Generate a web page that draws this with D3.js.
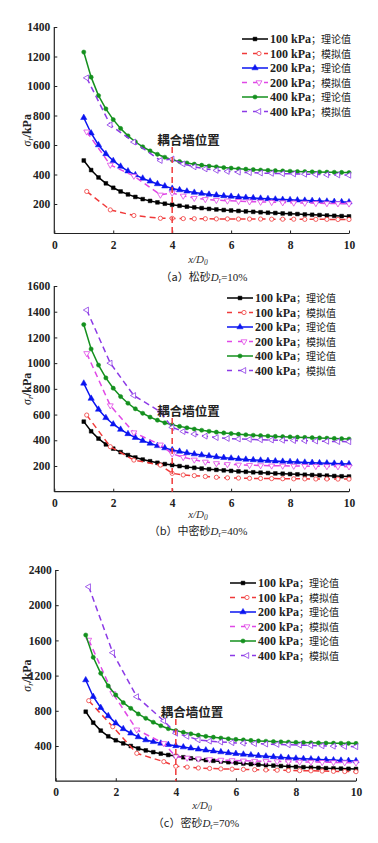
<!DOCTYPE html>
<html>
  <head>
    <meta http-equiv="Content-Type" content="text/html; charset=UTF-8">
    <script type="text/javascript" src="https://cdn.jsdelivr.net/npm/d3@7/dist/d3.min.js"></script>
    <style>
      body { margin: 0; background: #fff; }
      svg { display: block; }
      text { font-family: "Liberation Serif", "Noto Sans CJK SC", serif; }
    </style>
  </head>
  <body>
    <div id="chart"></div>
    <script>
// x positions
var theoryX = [1, 1.25, 1.5, 1.75, 2, 2.25, 2.5, 2.75, 3, 3.25, 3.5, 3.75, 4, 4.25, 4.5, 4.75, 5, 5.25, 5.5, 5.75,
               6, 6.25, 6.5, 6.75, 7, 7.25, 7.5, 7.75, 8, 8.25, 8.5, 8.75, 9, 9.25, 9.5, 9.75, 10];
var simX = [1.1, 1.9, 2.7, 3.6, 4, 4.375, 4.75, 5.125, 5.5, 5.875, 6.25, 6.625, 7, 7.375, 7.75, 8.125, 8.5, 8.875, 9.25, 9.625, 10];

// (a) loose sand
var a100T = [495, 430, 380, 340, 310, 285, 265, 248, 233, 221, 211, 202, 195, 188, 182, 177, 172, 167, 163, 159,
             156, 153, 150, 147, 144, 141, 139, 136, 134, 132, 129, 127, 125, 122, 120, 118, 116];
var a100S = [285, 160, 122, 103, 103, 101, 100, 100, 99, 99, 98, 98, 98, 97, 97, 97, 96, 96, 96, 95, 95];
var a200T = [785, 680, 600, 540, 493, 455, 423, 397, 374, 354, 336, 321, 305, 295, 286, 278, 271, 265, 260, 255,
             251, 247, 244, 241, 238, 235, 232, 230, 228, 226, 224, 222, 220, 218, 216, 214, 213];
var a200S = [690, 465, 390, 262, 275, 255, 240, 232, 226, 222, 219, 216, 214, 212, 210, 208, 207, 205, 204, 203, 202];
var a400T = [1230, 1060, 935, 845, 772, 712, 662, 622, 588, 560, 537, 517, 500, 488, 478, 470, 463, 457, 452, 447,
             443, 439, 436, 433, 430, 428, 426, 424, 422, 420, 419, 418, 417, 416, 415, 414, 413];
var a400S = [1055, 736, 620, 495, 505, 472, 452, 438, 428, 421, 416, 413, 410, 408, 406, 404, 402, 400, 398, 397, 395];

// (b) medium dense sand
var b100T = [545, 470, 413, 368, 335, 308, 285, 266, 250, 237, 225, 215, 207, 199, 192, 186, 180, 175, 170, 166,
             162, 158, 155, 151, 148, 145, 142, 140, 137, 135, 132, 130, 128, 125, 122, 120, 118];
var b100S = [596, 350, 246, 207, 143, 130, 125, 118, 112, 108, 106, 104, 103, 102, 101, 100, 100, 99, 99, 98, 98];
var b200T = [843, 725, 640, 575, 525, 484, 450, 421, 397, 376, 357, 340, 325, 313, 302, 293, 285, 278, 271, 265,
             260, 255, 251, 247, 244, 241, 238, 235, 233, 231, 228, 226, 224, 222, 220, 218, 216];
var b200S = [1076, 670, 460, 365, 295, 268, 248, 232, 220, 213, 209, 206, 204, 202, 201, 200, 199, 198, 197, 196, 195];
var b400T = [1300, 1110, 985, 885, 805, 740, 688, 645, 610, 580, 556, 536, 520, 508, 497, 487, 478, 470, 463, 457,
             452, 447, 443, 439, 436, 433, 430, 428, 426, 424, 422, 420, 418, 416, 414, 412, 410];
var b400S = [1413, 1000, 748, 622, 500, 468, 448, 432, 421, 414, 410, 407, 404, 402, 400, 398, 396, 394, 392, 390, 389];

// (c) dense sand
var c100T = [790, 665, 575, 510, 465, 430, 400, 372, 350, 330, 313, 298, 286, 272, 260, 250, 240, 232, 224, 216,
             208, 201, 194, 188, 182, 177, 172, 167, 163, 159, 155, 152, 148, 145, 143, 141, 139];
var c100S = [915, 619, 317, 222, 170, 160, 150, 145, 140, 137, 134, 131, 128, 125, 122, 120, 118, 115, 112, 110, 108];
var c200T = [1150, 960, 835, 742, 660, 595, 545, 503, 468, 448, 430, 415, 402, 388, 375, 363, 352, 342, 332, 322,
             313, 305, 297, 290, 283, 277, 271, 265, 260, 255, 251, 247, 243, 240, 236, 233, 230];
var c200S = [1605, 999, 585, 430, 280, 265, 255, 247, 241, 236, 232, 229, 226, 224, 222, 220, 218, 216, 214, 212, 210];
var c400T = [1661, 1408, 1226, 1082, 980, 892, 828, 764, 715, 670, 630, 597, 575, 555, 538, 523, 510, 500, 490, 482,
             475, 469, 463, 458, 454, 450, 447, 444, 441, 439, 437, 435, 433, 432, 431, 430, 429];
var c400S = [2210, 1460, 960, 686, 545, 510, 470, 455, 445, 438, 432, 427, 422, 418, 414, 410, 406, 402, 398, 395, 392];

var seriesNames = ["100 kPa；理论值", "100 kPa；模拟值", "200 kPa；理论值", "200 kPa；模拟值", "400 kPa；理论值", "400 kPa；模拟值"];
var xTicks = [0, 2, 4, 6, 8, 10];
var wallX = 4;
var wallLabel = "耦合墙位置";

// styles for the 6 series, same order as the names
var styles = [
  {color: "#000000", dash: null,  shape: "square",  open: false},
  {color: "#f03a3a", dash: "6,4", shape: "circle",  open: true},
  {color: "#0a14f0", dash: null,  shape: "up",      open: false},
  {color: "#e048e6", dash: "6,4", shape: "down",    open: true},
  {color: "#14901e", dash: null,  shape: "dot",     open: false},
  {color: "#8c3ae6", dash: "6,4", shape: "left",    open: true}
];

var svg = d3.select("#chart").append("svg")
    .attr("width", 378)
    .attr("height", 843);

svg.append("rect").attr("width", 378).attr("height", 843).attr("fill", "#fff");

function marker(g, st, x, y) {
  var sym;
  if (st.shape === "square") sym = d3.symbol().type(d3.symbolSquare).size(14);
  else if (st.shape === "dot") sym = d3.symbol().type(d3.symbolCircle).size(14);
  else if (st.shape === "circle") sym = d3.symbol().type(d3.symbolCircle).size(14);
  else sym = d3.symbol().type(d3.symbolTriangle).size(st.open ? 15 : 17);
  var rot = st.shape === "down" ? 180 : st.shape === "left" ? -90 : 0;
  g.append("path")
      .attr("d", sym())
      .attr("transform", "translate(" + x + "," + y + ") rotate(" + rot + ")")
      .attr("fill", st.open ? "#fff" : st.color)
      .attr("stroke", st.color)
      .attr("stroke-width", st.open ? 0.8 : 0.5);
}

var drawPanel = function (config) {
  var left = config.left, right = config.right, top = config.top, bottom = config.bottom;
  var x = d3.scaleLinear().domain([0, 10]).range([left, right]);
  var y = d3.scaleLinear().domain([0, config.yMax]).range([bottom, top]);
  var g = svg.append("g");

  // axes
  var yAxis = d3.axisLeft(y).tickValues(config.yTicks).tickSize(-3).tickPadding(4).tickFormat(d3.format("d"));
  var xAxis = d3.axisBottom(x).tickValues(xTicks).tickSize(-3).tickPadding(7).tickFormat(d3.format("d"));
  var ya = g.append("g").attr("transform", "translate(" + left + ",0)").call(yAxis);
  var xa = g.append("g").attr("transform", "translate(0," + bottom + ")").call(xAxis);
  [ya, xa].forEach(function (a) {
    a.selectAll(".tick line").attr("stroke", "#222");
    a.selectAll(".tick text").attr("font-size", "11.5px").attr("font-weight", "bold").attr("fill", "#222")
      .style("font-family", "'Liberation Serif', serif");
  });
  ya.select(".domain").remove();
  xa.select(".domain").remove();
  g.append("line").attr("x1", left).attr("x2", left).attr("y1", top).attr("y2", bottom)
      .attr("stroke", "#222").attr("stroke-width", 1.2);
  g.append("line").attr("x1", left).attr("x2", right).attr("y1", bottom).attr("y2", bottom)
      .attr("stroke", "#222").attr("stroke-width", 1.2);

  // series
  var line = d3.line().x(function (d) { return x(d[0]); }).y(function (d) { return y(d[1]); });
  config.series.forEach(function (vals, i) {
    var st = styles[i];
    var xs = st.dash ? simX : theoryX;
    var pts = vals.map(function (v, j) { return [xs[j], v]; });
    g.append("path")
        .attr("d", line(pts))
        .attr("fill", "none")
        .attr("stroke", st.color)
        .attr("stroke-width", 1.5)
        .attr("stroke-dasharray", st.dash);
    pts.forEach(function (p) { marker(g, st, x(p[0]), y(p[1])); });
  });

  // wall position
  g.append("line")
      .attr("x1", x(wallX)).attr("x2", x(wallX))
      .attr("y1", config.wallTop).attr("y2", bottom)
      .attr("stroke", "#f03a3a").attr("stroke-width", 1.5).attr("stroke-dasharray", "6,4");
  g.append("text")
      .attr("x", x(wallX) - 15).attr("y", config.wallTop - 2)
      .attr("font-size", "12.5px").attr("font-weight", "bold").attr("fill", "#222")
      .style("font-family", "'Noto Sans CJK SC', sans-serif")
      .text(wallLabel);

  // legend
  var lg = config.legend;
  seriesNames.forEach(function (name, i) {
    var st = styles[i];
    var ly = lg.y + i * 14.5;
    g.append("line")
        .attr("x1", lg.x).attr("x2", lg.x + 26)
        .attr("y1", ly).attr("y2", ly)
        .attr("stroke", st.color).attr("stroke-width", 1.5)
        .attr("stroke-dasharray", st.dash ? "5,6" : null);
    marker(g, st, lg.x + (st.dash ? 17 : 13), ly);
    var t = g.append("text").attr("x", lg.x + 28).attr("y", ly + 4)
        .attr("font-size", "12px").attr("fill", "#222");
    var parts = name.split("；");
    t.append("tspan").attr("font-weight", "bold").text(parts[0]);
    t.append("tspan").attr("font-size", "10px").style("font-family", "'Noto Sans CJK SC', sans-serif")
        .text("；" + parts[1]);
  });

  // y label
  var yl = g.append("text")
      .attr("transform", "translate(" + config.yLabelX + "," + ((top + bottom) / 2) + ") rotate(-90)")
      .attr("text-anchor", "middle").attr("font-size", "12px").attr("fill", "#222");
  yl.append("tspan").attr("font-style", "italic").text("σ");
  yl.append("tspan").attr("font-style", "italic").attr("font-size", "8px").attr("dy", 2).text("r");
  yl.append("tspan").attr("font-weight", "bold").attr("dy", -2).text("/kPa");

  // x label
  var xl = g.append("text")
      .attr("x", config.xLabelX).attr("y", config.xLabelY)
      .attr("text-anchor", "middle").attr("font-size", "11px").attr("fill", "#333")
      .attr("font-style", "italic");
  xl.append("tspan").text("x/D");
  xl.append("tspan").attr("font-size", "7.5px").attr("dy", 2).text("0");

  // caption
  var cp = g.append("text")
      .attr("x", config.capX).attr("y", config.capY)
      .attr("text-anchor", "middle").attr("font-size", "11px").attr("fill", "#222");
  cp.append("tspan").style("font-family", "'Noto Sans CJK SC', sans-serif").text(config.capText);
  cp.append("tspan").attr("font-style", "italic").text("D");
  cp.append("tspan").attr("font-size", "7.5px").attr("dy", 2).text("r");
  cp.append("tspan").attr("dy", -2).text(config.capValue);
};

drawPanel({
  left: 54.3, right: 349, top: 27, bottom: 233.5, yMax: 1400,
  yTicks: [200, 400, 600, 800, 1000, 1200, 1400],
  series: [a100T, a100S, a200T, a200S, a400T, a400S],
  wallTop: 147,
  legend: {x: 242, y: 39},
  yLabelX: 31, xLabelX: 198, xLabelY: 263, capX: 204, capY: 281,
  capText: "（a）松砂", capValue: "=10%"
});

drawPanel({
  left: 54.3, right: 349, top: 286, bottom: 491.7, yMax: 1600,
  yTicks: [200, 400, 600, 800, 1000, 1200, 1400, 1600],
  series: [b100T, b100S, b200T, b200S, b400T, b400S],
  wallTop: 418,
  legend: {x: 227, y: 298},
  yLabelX: 31, xLabelX: 198, xLabelY: 518, capX: 198, capY: 535,
  capText: "（b）中密砂", capValue: "=40%"
});

drawPanel({
  left: 55.7, right: 356, top: 570, bottom: 781.2, yMax: 2400,
  yTicks: [400, 800, 1200, 1600, 2000, 2400],
  series: [c100T, c100S, c200T, c200S, c400T, c400S],
  wallTop: 719,
  legend: {x: 230, y: 583},
  yLabelX: 31, xLabelX: 202, xLabelY: 809, capX: 196, capY: 827,
  capText: "（c）密砂", capValue: "=70%"
});
    </script>
  </body>
</html>
